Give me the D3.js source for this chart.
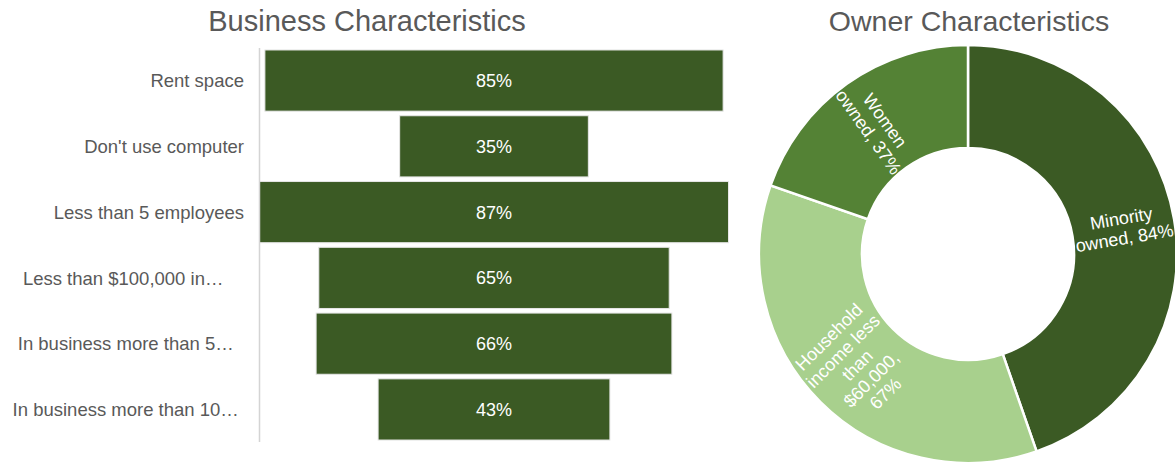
<!DOCTYPE html>
<html>
<head>
<meta charset="utf-8">
<script src="https://cdn.jsdelivr.net/npm/d3@7"></script>
<style>
  html, body { margin: 0; padding: 0; background: #fff; }
  svg { display: block; font-family: "Liberation Sans", Arial, Helvetica, sans-serif; }
</style>
</head>
<body>
<svg id="chart" width="1175" height="466"></svg>
<script>
// Business characteristics (centred bars); long labels are cut short with an ellipsis
const businessCategories = [
  "Rent space",
  "Don't use computer",
  "Less than 5 employees",
  "Less than $100,000 in\u2026\u00a0\u00a0\u00a0\u00a0",
  "In business more than 5\u2026\u00a0\u00a0",
  "In business more than 10\u2026\u00a0"
];
const businessValues = [85, 35, 87, 65, 66, 43];

// Owner characteristics (donut), in drawing order clockwise from 12 o'clock
const ownerLabels = [
  ["Minority", "owned, 84%"],
  ["Household", "income less", "than", "$60,000,", "67%"],
  ["Women", "owned, 37%"]
];
const ownerValues = [84, 67, 37];
const ownerColors = ["#3b5a24", "#a8d08d", "#548235"];

const titles = ["Business Characteristics", "Owner Characteristics"];

const svg = d3.select("#chart");
const textGrey = "#595959";
const barColor = "#3b5a24";

// ---------- Left panel: centred bar chart ----------
const axisX = 259.5, centreX = 494;
const plotTop = 48, plotBottom = 442;

svg.append("text")
  .attr("x", 367).attr("y", 31)
  .attr("text-anchor", "middle")
  .attr("font-size", 29)
  .attr("fill", textGrey)
  .text(titles[0]);

const y = d3.scaleBand()
  .domain(businessCategories)
  .range([plotTop, plotBottom])
  .paddingInner(0.07)
  .paddingOuter(0.03);

const halfWidth = d3.scaleLinear()
  .domain([0, d3.max(businessValues)])
  .range([0, centreX - axisX]);

const rows = businessCategories.map((c, i) => ({ c, v: businessValues[i] }));

svg.append("g").selectAll("rect")
  .data(rows)
  .join("rect")
  .attr("x", d => centreX - halfWidth(d.v))
  .attr("y", d => y(d.c))
  .attr("width", d => 2 * halfWidth(d.v))
  .attr("height", y.bandwidth())
  .attr("fill", barColor)
  .attr("stroke", "#e6e6e6")
  .attr("stroke-width", 1);

svg.append("line")
  .attr("x1", axisX).attr("x2", axisX)
  .attr("y1", plotTop).attr("y2", plotBottom)
  .attr("stroke", "#d4d4d4")
  .attr("stroke-width", 1.5);

svg.append("g").selectAll("text")
  .data(rows)
  .join("text")
  .attr("x", centreX)
  .attr("y", d => y(d.c) + y.bandwidth() / 2)
  .attr("dy", "0.36em")
  .attr("text-anchor", "middle")
  .attr("font-size", 18)
  .attr("fill", "#fff")
  .text(d => d.v + "%");

svg.append("g").selectAll("text")
  .data(rows)
  .join("text")
  .attr("x", 244)
  .attr("y", d => y(d.c) + y.bandwidth() / 2)
  .attr("dy", "0.36em")
  .attr("text-anchor", "end")
  .attr("font-size", 18.5)
  .attr("fill", textGrey)
  .text(d => d.c);

// ---------- Right panel: donut ----------
const cx = 968, cy = 254, rOuter = 209, rInner = 106;

svg.append("text")
  .attr("x", 969).attr("y", 31)
  .attr("text-anchor", "middle")
  .attr("font-size", 28.5)
  .attr("fill", textGrey)
  .text(titles[1]);

const pie = d3.pie().sort(null).value(d => d.v);
const arcs = pie(ownerValues.map((v, i) => ({ v, lines: ownerLabels[i], color: ownerColors[i] })));
const arc = d3.arc().innerRadius(rInner).outerRadius(rOuter);
const labelArc = d3.arc().innerRadius(157).outerRadius(157);

const donut = svg.append("g").attr("transform", `translate(${cx},${cy})`);

donut.selectAll("path")
  .data(arcs)
  .join("path")
  .attr("d", arc)
  .attr("fill", d => d.data.color)
  .attr("stroke", "#fff")
  .attr("stroke-width", 2.5);

// slice labels run along the radius, flipped on the left half so they stay upright
const lineH = 20;
donut.selectAll("g.lbl")
  .data(arcs)
  .join("g")
  .attr("class", "lbl")
  .attr("transform", d => {
    const [lx, ly] = labelArc.centroid(d);
    const mid = (d.startAngle + d.endAngle) / 2 * 180 / Math.PI;
    let rot = mid - 90;
    if (mid > 180) rot -= 180;
    return `translate(${lx},${ly}) rotate(${rot})`;
  })
  .each(function(d) {
    const n = d.data.lines.length;
    d3.select(this).selectAll("text")
      .data(d.data.lines)
      .join("text")
      .attr("x", 0)
      .attr("y", (l, i) => (i - (n - 1) / 2) * lineH)
      .attr("dy", "0.36em")
      .attr("text-anchor", "middle")
      .attr("font-size", 18)
      .attr("fill", "#fff")
      .text(l => l);
  });
</script>
</body>
</html>
